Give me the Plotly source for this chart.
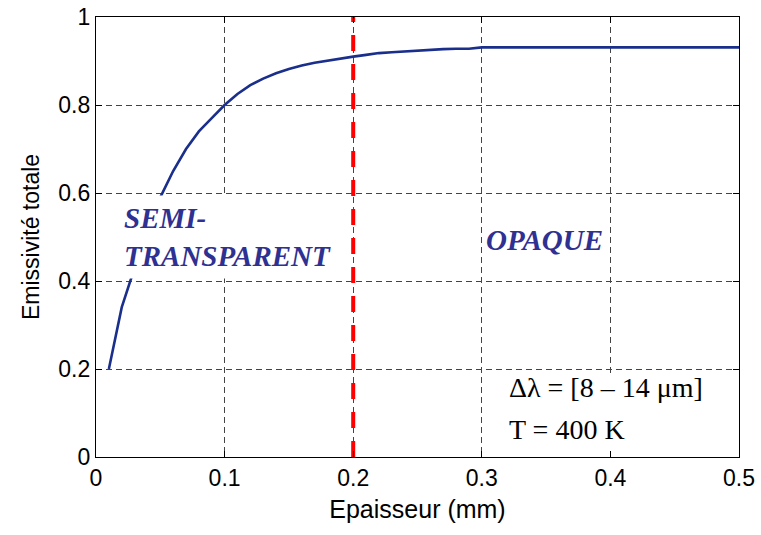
import plotly.graph_objects as go

# Data
thickness_mm = [0.01, 0.02, 0.03, 0.04, 0.05, 0.06, 0.07, 0.08, 0.09, 0.10,
                0.11, 0.12, 0.13, 0.14, 0.15, 0.16, 0.17, 0.18, 0.19, 0.20,
                0.21, 0.22, 0.23, 0.24, 0.25, 0.26, 0.27, 0.28, 0.29, 0.30,
                0.35, 0.40, 0.45, 0.50]
emissivity = [0.20, 0.34, 0.43, 0.52, 0.59, 0.65, 0.70, 0.74, 0.77, 0.80,
              0.825, 0.845, 0.86, 0.872, 0.882, 0.89, 0.896, 0.901, 0.906, 0.91,
              0.914, 0.918, 0.92, 0.922, 0.924, 0.926, 0.927, 0.928, 0.928, 0.931,
              0.931, 0.931, 0.931, 0.931]
boundary_x = [0.2, 0.2]
boundary_y = [0, 1]
x_ticks = [0, 0.1, 0.2, 0.3, 0.4, 0.5]
y_ticks = [0, 0.2, 0.4, 0.6, 0.8, 1]

fig = go.Figure()
fig.add_trace(go.Scatter(x=thickness_mm, y=emissivity, mode="lines",
                         line=dict(color="#1a2e8c", width=2.6), showlegend=False))
fig.add_trace(go.Scatter(x=boundary_x, y=boundary_y, mode="lines",
                         line=dict(color="#ff0000", width=4, dash="16px,13px"),
                         showlegend=False))

# white box behind the parameters text
fig.add_shape(type="rect", xref="x", yref="y", x0=0.305, x1=0.497, y0=0.01, y1=0.19,
              fillcolor="white", line=dict(width=0), layer="between")

label_font = dict(family="Liberation Serif", size=29, color="#2e3192")
fig.add_annotation(x=0.016, y=0.5, xref="x", yref="y",
                   text="<b><i>SEMI-<br>TRANSPARENT</i></b>", showarrow=False,
                   xanchor="left", yanchor="middle", align="left",
                   font=label_font, bgcolor="white", borderpad=6)
fig.add_annotation(x=0.3485, y=0.493, xref="x", yref="y",
                   text="<b><i>OPAQUE</i></b>", showarrow=False,
                   xanchor="center", yanchor="middle", font=label_font)
param_font = dict(family="Liberation Serif", size=28, color="black")
fig.add_annotation(x=0.3195, y=0.157, xref="x", yref="y",
                   text="Δλ = [8 – 14 μm]", showarrow=False,
                   xanchor="left", yanchor="middle", font=param_font)
fig.add_annotation(x=0.3195, y=0.062, xref="x", yref="y",
                   text="T = 400 K", showarrow=False,
                   xanchor="left", yanchor="middle", font=param_font)

axis_common = dict(showline=True, linecolor="black", linewidth=1.2, mirror="allticks",
                   ticks="inside", ticklen=6, tickcolor="black", showgrid=True,
                   gridcolor="#444444", griddash="6px,4px", gridwidth=1,
                   zeroline=False, automargin=False,
                   tickfont=dict(family="Liberation Sans", size=23, color="black"))

fig.update_xaxes(range=[0, 0.5], tickvals=x_ticks, ticktext=[str(v) for v in x_ticks],
                 title=dict(text="Epaisseur (mm)",
                            font=dict(family="Liberation Sans", size=25, color="black"),
                            standoff=10),
                 **axis_common)
fig.update_yaxes(range=[0, 1], tickvals=y_ticks, ticktext=[str(v) for v in y_ticks],
                 title=dict(text="Emissivité totale",
                            font=dict(family="Liberation Sans", size=23, color="black"),
                            standoff=12),
                 **axis_common)

fig.update_layout(width=761, height=535, margin=dict(l=96, r=22, t=17, b=78),
                  plot_bgcolor="white", paper_bgcolor="white", showlegend=False)

fig.write_html("out.html", config={"displayModeBar": False},
               post_script="document.body.style.margin='0';document.body.style.overflow='hidden';")
